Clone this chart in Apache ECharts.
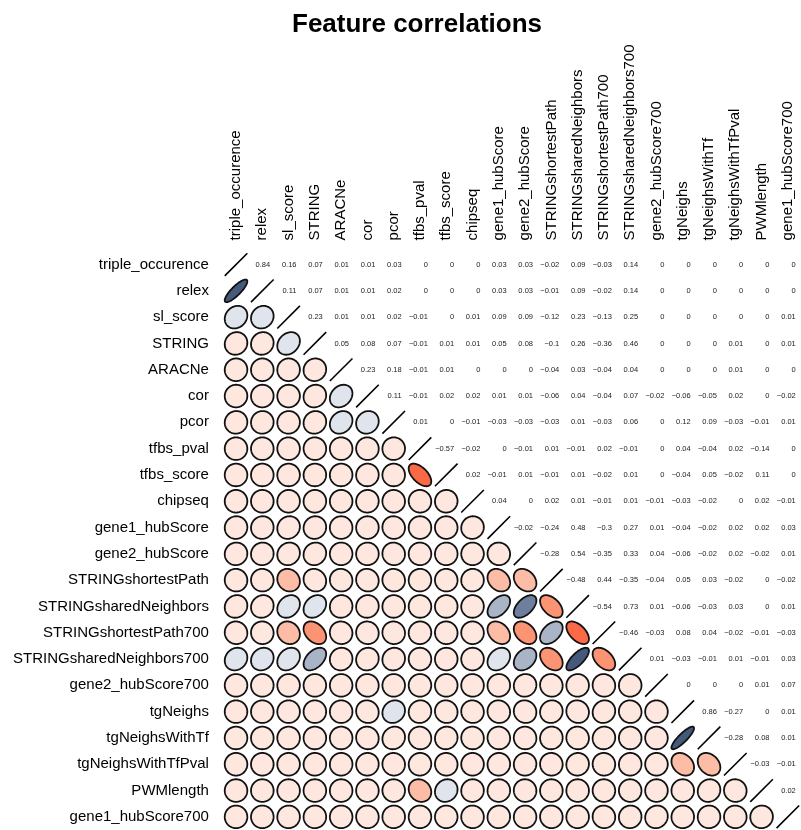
<!DOCTYPE html>
<html>
<head>
<meta charset="utf-8">
<script src="https://cdn.jsdelivr.net/npm/echarts@6/dist/echarts.min.js"></script>
<style>
  html, body { margin: 0; padding: 0; background: #ffffff; }
  #chart { width: 801px; height: 830px; }
</style>
</head>
<body>
<div id="chart"></div>
<script>
// Feature names, in matrix order
const features = [
  'triple_occurence', 'relex', 'sl_score', 'STRING', 'ARACNe', 'cor', 'pcor',
  'tfbs_pval', 'tfbs_score', 'chipseq', 'gene1_hubScore', 'gene2_hubScore',
  'STRINGshortestPath', 'STRINGsharedNeighbors', 'STRINGshortestPath700',
  'STRINGsharedNeighbors700', 'gene2_hubScore700', 'tgNeighs', 'tgNeighsWithTf',
  'tgNeighsWithTfPval', 'PWMlength', 'gene1_hubScore700'
];

// Upper-triangle correlations: each row holds the columns to the right of the diagonal
const corTripleOccurence = [0.84, 0.16, 0.07, 0.01, 0.01, 0.03, 0, 0, 0, 0.03, 0.03, -0.02, 0.09, -0.03, 0.14, 0, 0, 0, 0, 0, 0];
const corRelex = [0.11, 0.07, 0.01, 0.01, 0.02, 0, 0, 0, 0.03, 0.03, -0.01, 0.09, -0.02, 0.14, 0, 0, 0, 0, 0, 0];
const corSlScore = [0.23, 0.01, 0.01, 0.02, -0.01, 0, 0.01, 0.09, 0.09, -0.12, 0.23, -0.13, 0.25, 0, 0, 0, 0, 0, 0.01];
const corSTRING = [0.05, 0.08, 0.07, -0.01, 0.01, 0.01, 0.05, 0.08, -0.1, 0.26, -0.36, 0.46, 0, 0, 0, 0.01, 0, 0.01];
const corARACNe = [0.23, 0.18, -0.01, 0.01, 0, 0, 0, -0.04, 0.03, -0.04, 0.04, 0, 0, 0, 0.01, 0, 0];
const corCor = [0.11, -0.01, 0.02, 0.02, 0.01, 0.01, -0.06, 0.04, -0.04, 0.07, -0.02, -0.06, -0.05, 0.02, 0, -0.02];
const corPcor = [0.01, 0, -0.01, -0.03, -0.03, -0.03, 0.01, -0.03, 0.06, 0, 0.12, 0.09, -0.03, -0.01, 0.01];
const corTfbsPval = [-0.57, -0.02, 0, -0.01, 0.01, -0.01, 0.02, -0.01, 0, 0.04, -0.04, 0.02, -0.14, 0];
const corTfbsScore = [0.02, -0.01, 0.01, -0.01, 0.01, -0.02, 0.01, 0, -0.04, 0.05, -0.02, 0.11, 0];
const corChipseq = [0.04, 0, 0.02, 0.01, -0.01, 0.01, -0.01, -0.03, -0.02, 0, 0.02, -0.01];
const corGene1Hub = [-0.02, -0.24, 0.48, -0.3, 0.27, 0.01, -0.04, -0.02, 0.02, 0.02, 0.03];
const corGene2Hub = [-0.28, 0.54, -0.35, 0.33, 0.04, -0.06, -0.02, 0.02, -0.02, 0.01];
const corShortestPath = [-0.48, 0.44, -0.35, -0.04, 0.05, 0.03, -0.02, 0, -0.02];
const corSharedNeighbors = [-0.54, 0.73, 0.01, -0.06, -0.03, 0.03, 0, 0.01];
const corShortestPath700 = [-0.46, -0.03, 0.08, 0.04, -0.02, -0.01, -0.03];
const corSharedNeighbors700 = [0.01, -0.03, -0.01, 0.01, -0.01, 0.03];
const corGene2Hub700 = [0, 0, 0, 0.01, 0.07];
const corTgNeighs = [0.86, -0.27, 0, 0.01];
const corTgNeighsWithTf = [-0.28, 0.08, 0.01];
const corTgNeighsWithTfPval = [-0.03, -0.01];
const corPWMlength = [0.02];
const corGene1Hub700 = [];

const upperRows = [
  corTripleOccurence, corRelex, corSlScore, corSTRING, corARACNe, corCor, corPcor,
  corTfbsPval, corTfbsScore, corChipseq, corGene1Hub, corGene2Hub, corShortestPath,
  corSharedNeighbors, corShortestPath700, corSharedNeighbors700, corGene2Hub700,
  corTgNeighs, corTgNeighsWithTf, corTgNeighsWithTfPval, corPWMlength, corGene1Hub700
];

// Binned palette: index = round(5 * r), reds for negative, slate blues for positive
const paletteNeg = ['#FDE7DF', '#FCBCA5', '#FC9373', '#FB6946', '#EF3B2C', '#CB181D'];
const palettePos = ['#FDE7DF', '#E0E4EC', '#A9B4C7', '#6E7F9E', '#45597B', '#2E4466'];
function colorFor(r) {
  const k = Math.round(r * 5);
  return k < 0 ? paletteNeg[-k] : palettePos[k];
}

function fmt(v) {
  const s = String(v);
  return v < 0 ? '\u2212' + s.slice(1) : s;
}

// Build cells: kind 0 = diagonal, 1 = ellipse (lower), 2 = number (upper)
const n = features.length;
const cells = [];
for (let i = 0; i < n; i++) {
  cells.push([i, i, 1, 0]);
  const row = upperRows[i];
  for (let k = 0; k < row.length; k++) {
    const j = i + 1 + k;
    cells.push([j, i, row[k], 2]); // number above the diagonal
    cells.push([i, j, row[k], 1]); // mirrored ellipse below it
  }
}

const FONT = 'Liberation Sans, Arial, sans-serif';
const chart = echarts.init(document.getElementById('chart'), null, { renderer: 'canvas' });

chart.setOption({
  backgroundColor: '#ffffff',
  animation: false,
  title: {
    text: 'Feature correlations',
    left: 412,
    top: 7,
    textAlign: 'center',
    textStyle: { fontFamily: FONT, fontSize: 26, fontWeight: 'bold', color: '#000' }
  },
  grid: { left: 222.9, top: 251.4, width: 578.6, height: 578.6, containLabel: false },
  xAxis: {
    type: 'category',
    data: features,
    position: 'top',
    axisLine: { show: false },
    axisTick: { show: false },
    splitLine: { show: false },
    axisLabel: { rotate: -90, margin: 11, fontSize: 15, fontFamily: FONT, color: '#000', interval: 0 }
  },
  yAxis: {
    type: 'category',
    data: features,
    inverse: true,
    axisLine: { show: false },
    axisTick: { show: false },
    splitLine: { show: false },
    axisLabel: { margin: 14, fontSize: 15, fontFamily: FONT, color: '#000', interval: 0 }
  },
  series: [{
    type: 'custom',
    data: cells,
    encode: { x: 0, y: 1 },
    clip: false,
    renderItem: function (params, api) {
      const r = api.value(2);
      const kind = api.value(3);
      const c = api.coord([api.value(0), api.value(1)]);
      const cell = api.size([1, 1])[0];
      const t = 0.43 * cell;
      if (kind === 0) {
        return {
          type: 'line',
          shape: { x1: c[0] - t, y1: c[1] + t, x2: c[0] + t, y2: c[1] - t },
          style: { stroke: '#000', lineWidth: 1.6 }
        };
      }
      if (kind === 1) {
        const d = Math.acos(r);
        const pts = [];
        for (let k = 0; k < 100; k++) {
          const a = 2 * Math.PI * k / 100;
          pts.push([c[0] + t * Math.cos(a + d / 2), c[1] - t * Math.cos(a - d / 2)]);
        }
        return {
          type: 'polygon',
          shape: { points: pts },
          style: { fill: colorFor(r), stroke: '#111', lineWidth: 1.8 }
        };
      }
      return {
        type: 'text',
        style: {
          text: fmt(r),
          x: c[0] + 0.3 * cell,
          y: c[1],
          align: 'right',
          verticalAlign: 'middle',
          fontSize: 7.5,
          fontFamily: FONT,
          fill: '#222'
        }
      };
    }
  }]
});
</script>
</body>
</html>
